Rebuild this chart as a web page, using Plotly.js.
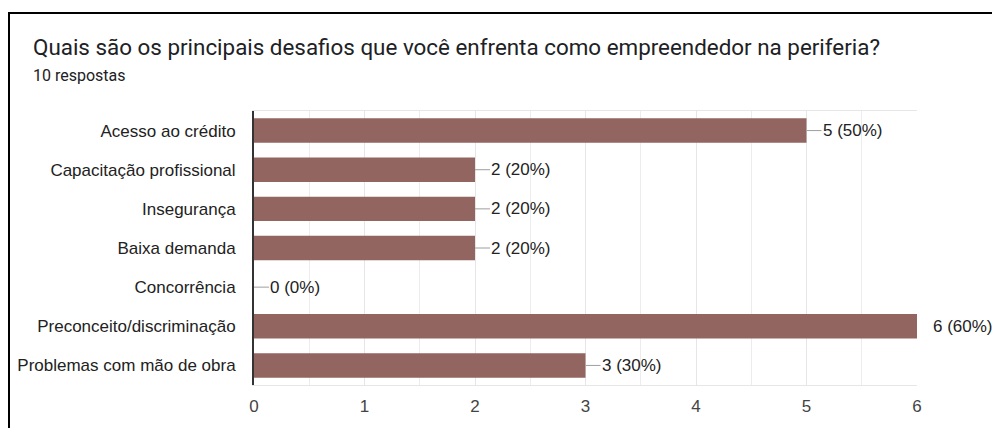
<!DOCTYPE html>
<html>
<head>
<meta charset="utf-8">
<script src="https://cdn.plot.ly/plotly-3.0.1.min.js"></script>
<style>
  html, body { margin: 0; padding: 0; background: #fff; }
  #wrap { position: relative; width: 992px; height: 428px; overflow: hidden; }
  #chart { width: 992px; height: 428px; }
  #frame { position: absolute; left: 8px; top: 12px; width: 2000px; height: 2000px;
           border-left: 2px solid #000; border-top: 2px solid #000; pointer-events: none; }
</style>
</head>
<body>
<div id="wrap">
  <div id="chart"></div>
  <div id="frame"></div>
</div>
<script>
const categories = [
  "Acesso ao crédito",
  "Capacitação profissional",
  "Insegurança",
  "Baixa demanda",
  "Concorrência",
  "Preconceito/discriminação",
  "Problemas com mão de obra"
];
const counts = [5, 2, 2, 2, 0, 6, 3];
const totalResponses = 10;
const titleText = "Quais são os principais desafios que você enfrenta como empreendedor na periferia?";
const subtitleText = totalResponses + " respostas";
const xTickValues = [0, 1, 2, 3, 4, 5, 6];

const xMax = 6;
const barColor = "#926560";

const trace = {
  type: "bar",
  orientation: "h",
  x: counts,
  y: categories,
  marker: { color: barColor, line: { width: 0 } },
  hoverinfo: "skip"
};

const annotations = categories.map((c, i) => {
  const v = counts[i];
  const pct = Math.round(v / totalResponses * 100);
  return {
    x: v, y: c, xref: "x", yref: "y",
    text: v + " (" + pct + "%)",
    showarrow: true, arrowhead: 0, arrowwidth: 1,
    arrowcolor: v >= xMax ? "rgba(0,0,0,0)" : "#9e9e9e",
    standoff: 0, startstandoff: 0,
    ax: 15, ay: 0, axref: "pixel", ayref: "pixel",
    xanchor: "left", yanchor: "middle",
    borderpad: 0,
    font: { family: "Liberation Sans, Arial, sans-serif", size: 17, color: "#222222" }
  };
});

const layout = {
  width: 992, height: 428,
  margin: { l: 254, r: 75, t: 111, b: 43 },
  paper_bgcolor: "#ffffff",
  plot_bgcolor: "#ffffff",
  showlegend: false,
  bargap: 0.375,
  title: {
    text: "<span style='font-size:22.4px'>" + titleText + "</span><br><span style='font-size:16px'>" + subtitleText + "</span>",
    font: { family: "Roboto, sans-serif", size: 20, color: "#202124" },
    x: 33 / 992, xref: "container", xanchor: "left",
    y: 1 - 55 / 428, yref: "container", yanchor: "top",
    pad: { t: 0, b: 0, l: 0, r: 0 }
  },
  xaxis: {
    range: [0, xMax],
    tickvals: xTickValues,
    ticktext: xTickValues.map(String),
    showgrid: true, gridcolor: "#e6e6e6", gridwidth: 1,
    minor: { dtick: 0.5, tick0: 0, showgrid: true, gridcolor: "#ececec", gridwidth: 1 },
    zeroline: false,
    showline: true, linecolor: "#e6e6e6", linewidth: 1, mirror: true,
    ticks: "",
    ticklabelstandoff: 6,
    tickfont: { family: "Liberation Sans, Arial, sans-serif", size: 17, color: "#444444" },
    fixedrange: true
  },
  yaxis: {
    type: "category",
    autorange: "reversed",
    showgrid: false,
    zeroline: false,
    showline: true, linecolor: "#333333", linewidth: 2,
    ticks: "",
    ticklabelstandoff: 13,
    tickfont: { family: "Liberation Sans, Arial, sans-serif", size: 17, color: "#222222" },
    fixedrange: true
  },
  annotations: annotations
};

Plotly.newPlot("chart", [trace], layout, { displayModeBar: false, staticPlot: true });
</script>
</body>
</html>
